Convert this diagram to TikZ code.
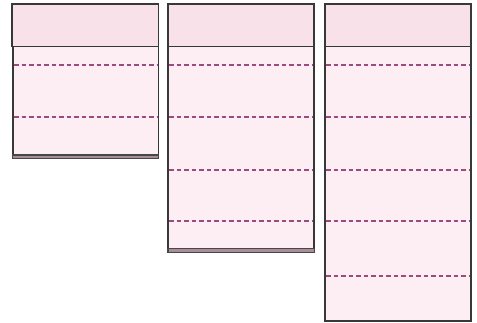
\documentclass[tikz,border=0pt]{standalone}
\begin{document}
\begin{tikzpicture}[x=1pt,y=-1pt,
  headbox/.style={draw=black!78,line width=1.5pt,fill=headfill},
  bodybox/.style={draw=black!78,line width=1.5pt,fill=bodyfill},
  divider/.style={draw=divcol,line width=1.4pt,dash pattern=on 4.5pt off 3pt},
  basebar/.style={draw=black!72,line width=1.3pt,fill=barfill}]
\definecolor{headfill}{HTML}{F9E1EA}
\definecolor{bodyfill}{HTML}{FDEEF4}
\definecolor{divcol}{HTML}{9C4A80}
\definecolor{barfill}{HTML}{A88C99}
\useasboundingbox (0,0) rectangle (477,323);
% column 1
\draw[bodybox] (12.8,46.5) rectangle (158.3,156);
\draw[divider] (14,65) -- (157,65);
\draw[divider] (14,117) -- (157,117);
\draw[basebar] (12.3,155) rectangle (158.7,158.7);
\draw[headbox] (12,4) rectangle (158.5,46.5);
% column 2
\draw[bodybox] (168,46.5) rectangle (314,250);
\foreach \yy in {65,117,170,221} \draw[divider] (169.2,\yy) -- (312.8,\yy);
\draw[basebar] (168,248.5) rectangle (314.5,252.2);
\draw[headbox] (168,4) rectangle (314,46.5);
% column 3
\draw[bodybox] (325,46.5) rectangle (471,321);
\foreach \yy in {65,117,170,221,276} \draw[divider] (326.2,\yy) -- (469.8,\yy);
\draw[headbox] (325,4) rectangle (471,46.5);
\end{tikzpicture}
\end{document}
